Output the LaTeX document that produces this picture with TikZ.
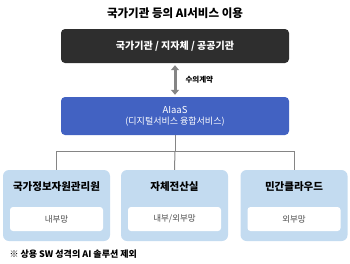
\documentclass[tikz,border=0pt]{standalone}
\usepackage{fontspec}
\setmainfont{Noto Sans CJK KR}
\usepackage{tikz}
\usepackage{xcolor}
\usetikzlibrary{positioning, arrows.meta, calc}
\definecolor{darkgray}{HTML}{2E2E2E}
\definecolor{aiblue}{HTML}{4262C2}
\definecolor{paleblue}{HTML}{C3DBF0}
\definecolor{linegray}{HTML}{858585}

\begin{document}
\begin{tikzpicture}[
  x=1pt, y=-1pt,
  darkbox/.style={fill=darkgray, rounded corners=4pt, minimum width=228pt, minimum height=34pt,
    text=white, font=\fontsize{10}{12}\selectfont\bfseries},
  bluebox/.style={fill=aiblue, rounded corners=4pt, minimum width=228pt, minimum height=38pt,
    text=white, align=center, font=\fontsize{9.5}{12}\selectfont},
  sitebox/.style={fill=paleblue, rounded corners=6pt, minimum width=107pt, minimum height=71pt},
  netbox/.style={fill=white, rounded corners=3pt, minimum width=93pt, minimum height=24pt,
    font=\fontsize{8.5}{10}\selectfont, text=black!70},
  link/.style={draw=linegray, line width=1pt},
]
  \useasboundingbox (0,0) rectangle (350,263);
  \node[font=\fontsize{11.5}{13}\selectfont\bfseries] (title) at (175,13) {국가기관 등의 AI서비스 이용};

  % top boxes
  \node[darkbox] (top) at (175,46) {국가기관 / 지자체 / 공공기관};
  \node[bluebox] (aiaas) at (175,116) {AIaaS\\[-1pt]{\fontsize{9}{10}\selectfont(디지털서비스 융합서비스)}};
  \draw[linegray, line width=3pt, {Triangle[width=8pt,length=5pt]}-{Triangle[width=8pt,length=5pt]}]
    ([yshift=-2pt]top.south) -- ([yshift=2pt]aiaas.north);
  \coordinate (mid) at ($(top.south)!0.5!(aiaas.north)$);
  \node[font=\fontsize{7.5}{8}\selectfont\bfseries, right=7pt of mid] (contract) {수의계약};

  % three sites
  \node[sitebox] (site1) at (56.5,205.5) {};
  \node[sitebox] (site2) at (174.5,205.5) {};
  \node[sitebox] (site3) at (294,205.5) {};
  \foreach \i/\name/\net in {1/국가정보자원관리원/내부망, 2/자체전산실/{내부/외부망}, 3/민간클라우드/외부망} {
    \node[font=\fontsize{10.5}{13}\selectfont\bfseries, below=8pt of site\i.north] (name\i) {\name};
    \node[netbox, above=10pt of site\i.south] (net\i) {\net};
  }

  % connectors
  \coordinate (hub) at (175,151);
  \draw[link] (aiaas.south) -- (hub) -| (site1.north);
  \draw[link] (hub) -| (site3.north);
  \draw[link] (hub) -- (site2.north);

  \node[anchor=west, font=\fontsize{9}{10}\selectfont\bfseries] (note) at (6,254) {※ 상용 SW 성격의 AI 솔루션 제외};
\end{tikzpicture}
\end{document}
